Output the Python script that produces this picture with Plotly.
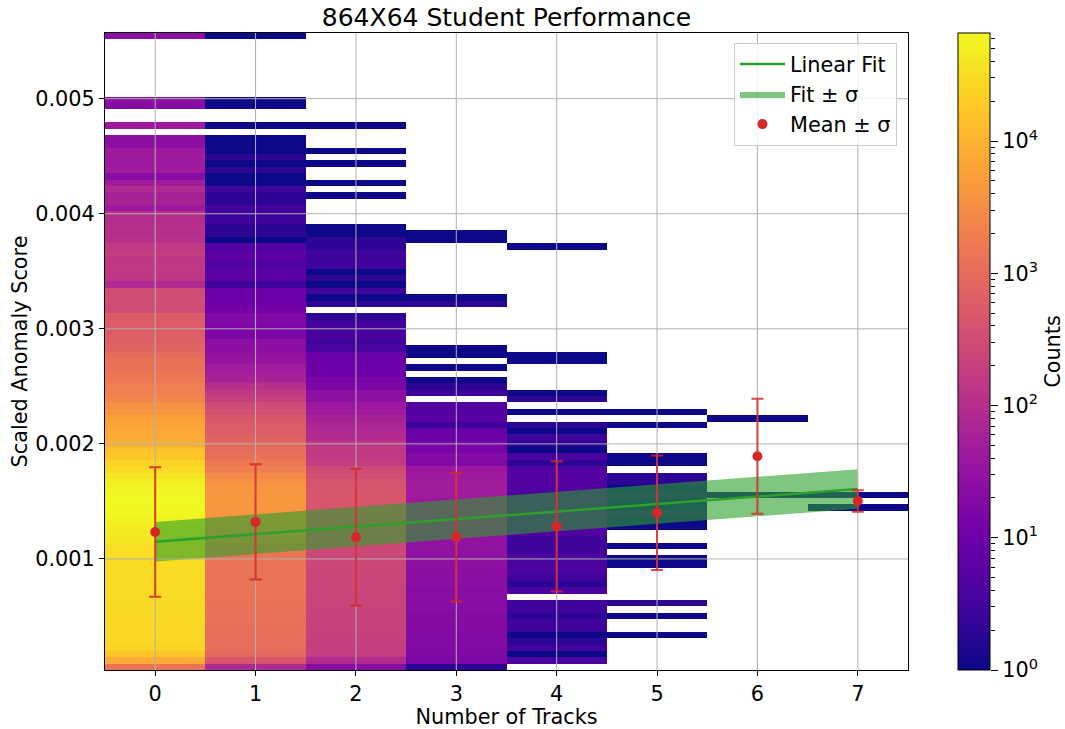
import numpy as np
import plotly.graph_objects as go

# ---------------------------------------------------------------- data
tracks = [0, 1, 2, 3, 4, 5, 6, 7]

# 2D-histogram counts for each number of tracks,
# 100 score bins listed from the highest score bin down to the lowest
counts_0 = [
    25, 0, 0, 0, 0, 0, 0, 0, 0, 0,
    25, 22, 0, 0, 43, 0, 25, 25, 43, 45,
    43, 45, 22, 48, 84, 60, 62, 43, 100, 95,
    105, 100, 110, 150, 180, 140, 150, 145, 140, 84,
    320, 330, 310, 300, 550, 560, 600, 620, 650, 780,
    1000, 1200, 1300, 1500, 1600, 1900, 2100, 2400, 3500, 4300,
    5800, 6500, 7200, 8000, 9500, 15000, 18000, 24000, 29000, 42000,
    50000, 56000, 60000, 65600, 63000, 60000, 55000, 48000, 44000, 40000,
    33000, 32000, 31000, 31500, 30000, 30500, 29000, 30000, 29500, 28500,
    29000, 28000, 28500, 27000, 27500, 26000, 24000, 17000, 8000, 1400,
]
counts_1 = [
    1, 0, 0, 0, 0, 0, 0, 0, 0, 0,
    1, 1, 0, 0, 1, 0, 1, 1, 1, 2,
    1, 2, 1, 1, 3, 2, 2, 3, 3, 3,
    2, 2, 1, 5, 6, 6, 5, 6, 6, 3,
    10, 10, 11, 13, 18, 18, 16, 16, 25, 26,
    30, 35, 45, 55, 65, 110, 150, 200, 300, 380,
    480, 550, 600, 700, 900, 1000, 1200, 1600, 1900, 3000,
    3500, 4000, 4300, 4500, 4300, 4000, 3600, 2800, 2500, 2200,
    1500, 1450, 1400, 1400, 1350, 1300, 1350, 1300, 1250, 1300,
    1200, 1250, 1200, 1150, 1100, 1100, 1050, 900, 450, 80,
]
counts_2 = [
    0, 0, 0, 0, 0, 0, 0, 0, 0, 0,
    0, 0, 0, 0, 1, 0, 0, 0, 1, 0,
    1, 0, 0, 1, 0, 1, 0, 0, 0, 0,
    1, 1, 2, 2, 3, 3, 3, 1, 2, 1,
    3, 1, 2, 0, 2, 3, 4, 4, 3, 4,
    9, 10, 10, 11, 15, 16, 25, 27, 40, 45,
    60, 70, 80, 90, 140, 150, 160, 180, 300, 350,
    400, 420, 450, 450, 430, 400, 380, 350, 330, 300,
    280, 270, 260, 260, 250, 250, 240, 240, 230, 230,
    220, 220, 210, 210, 200, 200, 190, 180, 84, 22,
]
counts_3 = [
    0, 0, 0, 0, 0, 0, 0, 0, 0, 0,
    0, 0, 0, 0, 0, 0, 0, 0, 0, 0,
    0, 0, 0, 0, 0, 0, 0, 0, 0, 0,
    0, 1, 1, 0, 0, 0, 0, 0, 0, 0,
    0, 1, 2, 0, 0, 0, 0, 0, 0, 1,
    1, 0, 1, 0, 1, 2, 3, 0, 5, 5,
    6, 3, 9, 10, 14, 15, 20, 18, 40, 45,
    48, 48, 45, 42, 40, 40, 38, 36, 34, 30,
    30, 28, 28, 27, 26, 25, 24, 22, 24, 22,
    22, 20, 21, 20, 19, 20, 18, 18, 16, 2,
]
counts_4 = [
    0, 0, 0, 0, 0, 0, 0, 0, 0, 0,
    0, 0, 0, 0, 0, 0, 0, 0, 0, 0,
    0, 0, 0, 0, 0, 0, 0, 0, 0, 0,
    0, 0, 0, 1, 0, 0, 0, 0, 0, 0,
    0, 0, 0, 0, 0, 0, 0, 0, 0, 0,
    1, 1, 0, 0, 0, 0, 1, 2, 0, 1,
    0, 2, 1, 3, 2, 1, 4, 2, 5, 5,
    5, 5, 4, 5, 4, 5, 4, 5, 5, 3,
    3, 3, 4, 4, 4, 3, 2, 4, 0, 3,
    3, 2, 3, 3, 1, 2, 3, 1, 4, 0,
]
counts_5 = [
    0, 0, 0, 0, 0, 0, 0, 0, 0, 0,
    0, 0, 0, 0, 0, 0, 0, 0, 0, 0,
    0, 0, 0, 0, 0, 0, 0, 0, 0, 0,
    0, 0, 0, 0, 0, 0, 0, 0, 0, 0,
    0, 0, 0, 0, 0, 0, 0, 0, 0, 0,
    0, 0, 0, 0, 0, 0, 0, 0, 0, 1,
    0, 1, 0, 0, 0, 0, 1, 1, 0, 2,
    2, 1, 2, 1, 1, 2, 1, 1, 0, 0,
    1, 0, 1, 1, 0, 0, 0, 0, 0, 2,
    0, 1, 0, 0, 1, 0, 0, 0, 0, 0,
]
counts_6 = [
    0, 0, 0, 0, 0, 0, 0, 0, 0, 0,
    0, 0, 0, 0, 0, 0, 0, 0, 0, 0,
    0, 0, 0, 0, 0, 0, 0, 0, 0, 0,
    0, 0, 0, 0, 0, 0, 0, 0, 0, 0,
    0, 0, 0, 0, 0, 0, 0, 0, 0, 0,
    0, 0, 0, 0, 0, 0, 0, 0, 0, 0,
    1, 0, 0, 0, 0, 0, 0, 0, 0, 0,
    0, 0, 1, 0, 0, 0, 0, 0, 0, 0,
    0, 0, 0, 0, 0, 0, 0, 0, 0, 0,
    0, 0, 0, 0, 0, 0, 0, 0, 0, 0,
]
counts_7 = [
    0, 0, 0, 0, 0, 0, 0, 0, 0, 0,
    0, 0, 0, 0, 0, 0, 0, 0, 0, 0,
    0, 0, 0, 0, 0, 0, 0, 0, 0, 0,
    0, 0, 0, 0, 0, 0, 0, 0, 0, 0,
    0, 0, 0, 0, 0, 0, 0, 0, 0, 0,
    0, 0, 0, 0, 0, 0, 0, 0, 0, 0,
    0, 0, 0, 0, 0, 0, 0, 0, 0, 0,
    0, 0, 1, 0, 1, 0, 0, 0, 0, 0,
    0, 0, 0, 0, 0, 0, 0, 0, 0, 0,
    0, 0, 0, 0, 0, 0, 0, 0, 0, 0,
]

score_min = 0.0000348
score_max = 0.005571
n_score_bins = 100

# per-multiplicity mean and standard deviation of the score
mean_score = [0.001234, 0.001322, 0.001188, 0.001190, 0.001283, 0.001401, 0.001892, 0.001503]
std_score = [0.000562, 0.000500, 0.000595, 0.000560, 0.000565, 0.000497, 0.000500, 0.000093]

# linear fit of the means
fit_intercept = 0.00115
fit_slope = 6.54e-5
fit_sigma = 0.000172

y_ticks = [0.001, 0.002, 0.003, 0.004, 0.005]
y_tick_text = ["0.001", "0.002", "0.003", "0.004", "0.005"]
cbar_ticks = [1, 10, 100, 1000, 10000]
cbar_tick_text = ["10<sup>0</sup>", "10<sup>1</sup>", "10<sup>2</sup>",
                  "10<sup>3</sup>", "10<sup>4</sup>"]

# ---------------------------------------------------------------- build
columns = [counts_0, counts_1, counts_2, counts_3,
           counts_4, counts_5, counts_6, counts_7]
for col in columns:
    assert len(col) == n_score_bins, len(col)

counts = np.array(columns, dtype=float).T[::-1]          # rows: low -> high score
with np.errstate(divide="ignore"):
    log_counts = np.where(counts > 0, np.log10(counts), np.nan)
z = [[None if np.isnan(v) else float(v) for v in row] for row in log_counts]
zmax = float(np.log10(counts.max()))

x_edges = [t - 0.5 for t in tracks] + [tracks[-1] + 0.5]
y_edges = np.linspace(score_min, score_max, n_score_bins + 1).tolist()
x_lo, x_hi = x_edges[0], x_edges[-1]

FONT = "DejaVu Sans"
FS = 20.8
GRID = "#b0b0b0"
GREEN = "#2ca02c"
RED = "#d62728"

# figure geometry (pixels)
W, H = 1065, 729
M_L, M_R, M_T, M_B = 105, 10, 33, 59
paper_w = W - M_L - M_R
plot_right = 908
cbar_left, cbar_right = 958, 990

def px_to_paper(px):
    return (px - M_L) / paper_w

fig = go.Figure()

fig.add_trace(go.Heatmap(
    x=x_edges, y=y_edges, z=z,
    colorscale="Plasma", zmin=0, zmax=zmax, zsmooth=False,
    hoverinfo="skip", showlegend=False,
    colorbar=dict(
        x=px_to_paper(cbar_left), xanchor="left", xpad=0,
        y=0.5, yanchor="middle", ypad=0, len=1, lenmode="fraction",
        thickness=cbar_right - cbar_left, thicknessmode="pixels",
        showticklabels=False, ticks="",
        outlinecolor="black", outlinewidth=1,
    ),
))

# fit band
fit_x = [tracks[0], tracks[-1]]
fit_y = [fit_intercept + fit_slope * x for x in fit_x]
fig.add_trace(go.Scatter(
    x=fit_x + fit_x[::-1],
    y=[v + fit_sigma for v in fit_y] + [v - fit_sigma for v in fit_y[::-1]],
    fill="toself", fillcolor="rgba(44,160,44,0.6)",
    line=dict(width=0, color="rgba(44,160,44,0.6)"),
    mode="lines", name="Fit ± σ", legendrank=2, hoverinfo="skip",
))

# grid lines sit above the histogram and the band but below the fit and points
gx, gy = [], []
for t in tracks:
    gx += [t, t, None]
    gy += [score_min, score_max, None]
for v in y_ticks:
    gx += [x_lo, x_hi, None]
    gy += [v, v, None]
fig.add_trace(go.Scatter(
    x=gx, y=gy, mode="lines", line=dict(color=GRID, width=1),
    showlegend=False, hoverinfo="skip",
))

fig.add_trace(go.Scatter(
    x=fit_x, y=fit_y, mode="lines", line=dict(color=GREEN, width=2.5),
    name="Linear Fit", legendrank=1,
))

fig.add_trace(go.Scatter(
    x=tracks, y=mean_score, mode="markers",
    marker=dict(color=RED, size=10),
    error_y=dict(type="data", array=std_score, visible=True,
                 color="rgba(214,39,40,0.85)", thickness=2, width=6),
    name="Mean ± σ", legendrank=3,
))

# axis carrying the log ticks of the colour bar
fig.add_trace(go.Scatter(x=[None], y=[None], yaxis="y2",
                         showlegend=False, hoverinfo="skip"))

axis_common = dict(
    showline=True, linecolor="black", linewidth=1, mirror=True,
    ticks="outside", ticklen=5, tickwidth=1, tickcolor="black",
    showgrid=False, zeroline=False, automargin=False,
    tickfont=dict(family=FONT, size=FS, color="black"),
)

fig.update_layout(
    width=W, height=H,
    margin=dict(l=M_L, r=M_R, t=M_T, b=M_B, pad=0, autoexpand=False),
    paper_bgcolor="white", plot_bgcolor="white",
    font=dict(family=FONT, size=FS, color="black"),
    title=dict(text="864X64 Student Performance",
               x=px_to_paper((M_L + plot_right) / 2), xref="paper", xanchor="center",
               y=1 - 17 / H, yref="container", yanchor="middle",
               font=dict(family=FONT, size=25, color="black")),
    xaxis=dict(
        domain=[0, px_to_paper(plot_right)],
        range=[x_lo, x_hi], tickmode="array", tickvals=tracks,
        title=dict(text="Number of Tracks", font=dict(family=FONT, size=FS), standoff=0),
        **axis_common,
    ),
    yaxis=dict(
        range=[score_min, score_max], tickmode="array",
        tickvals=y_ticks, ticktext=y_tick_text,
        title=dict(text="Scaled Anomaly Score", font=dict(family=FONT, size=FS), standoff=2),
        **axis_common,
    ),
    yaxis2=dict(
        overlaying="y", anchor="free", side="right",
        position=px_to_paper(cbar_right), automargin=False,
        type="log", range=[0, zmax],
        tickmode="array", tickvals=cbar_ticks, ticktext=cbar_tick_text,
        ticks="outside", ticklen=7, tickwidth=1, tickcolor="black",
        minor=dict(ticks="outside", ticklen=4, tickwidth=1, tickcolor="black",
                   tickmode="array",
                   tickvals=[k * 10 ** d for d in range(5) for k in range(2, 10)]),
        showgrid=False, zeroline=False, showline=False,
        tickfont=dict(family=FONT, size=FS, color="black"),
        title=dict(text="Counts", font=dict(family=FONT, size=FS), standoff=12),
    ),
    legend=dict(
        x=px_to_paper(897), xanchor="right", y=1 - 10 / 637, yanchor="top",
        bgcolor="rgba(255,255,255,0.8)", bordercolor="#cccccc", borderwidth=1,
        font=dict(family=FONT, size=FS), itemwidth=45,
        traceorder="normal",
    ),
)

fig.write_html("out.html")
